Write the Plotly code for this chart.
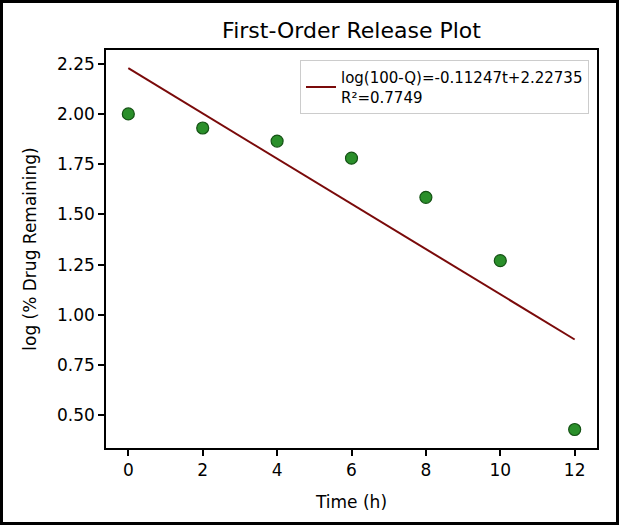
import plotly.graph_objects as go

# time points (h) and log(% drug remaining)
time_h = [0, 2, 4, 6, 8, 10, 12]
log_remaining = [2.00, 1.93, 1.865, 1.78, 1.585, 1.27, 0.43]

# fitted first-order line, evaluated at the first and last time point
fit_t = [0, 12]
fit_y = [2.22735, 0.87771]
fit_label = "log(100-Q)=-0.11247t+2.22735<br>R²=0.7749"

W, H = 619, 525
L, R, T, B = 106, 22, 50, 77
pw, ph = W - L - R, H - T - B
FONT = "DejaVu Sans"

fig = go.Figure()
fig.add_trace(
    go.Scatter(
        x=time_h,
        y=log_remaining,
        mode="markers",
        marker=dict(size=12, color="#2a8f2a", line=dict(color="#145214", width=1.2)),
        showlegend=False,
    )
)
fig.add_trace(
    go.Scatter(
        x=fit_t,
        y=fit_y,
        mode="lines",
        line=dict(color="#7a0a0a", width=2),
        name=fit_label,
    )
)

# outer black frame around the whole picture
fig.add_shape(
    type="rect",
    xref="paper",
    yref="paper",
    x0=(1.5 - L) / pw,
    x1=1 + (R - 1.5) / pw,
    y0=(1.5 - B) / ph,
    y1=1 + (T - 1.5) / ph,
    line=dict(color="black", width=3),
    fillcolor="rgba(0,0,0,0)",
    layer="above",
)

axis_style = dict(
    showline=True,
    linecolor="black",
    linewidth=1.5,
    mirror=True,
    showgrid=False,
    zeroline=False,
    ticks="outside",
    ticklen=6,
    tickwidth=1.5,
    tickcolor="black",
    tickfont=dict(family=FONT, size=17, color="black"),
)

fig.update_xaxes(
    range=[-0.6, 12.6],
    tickvals=[0, 2, 4, 6, 8, 10, 12],
    title=dict(text="Time (h)", font=dict(family=FONT, size=17, color="black"), standoff=17),
    **axis_style,
)
fig.update_yaxes(
    range=[0.338, 2.318],
    tickvals=[0.5, 0.75, 1.0, 1.25, 1.5, 1.75, 2.0, 2.25],
    tickformat=".2f",
    title=dict(text="log (% Drug Remaining)", font=dict(family=FONT, size=17, color="black"), standoff=16),
    **axis_style,
)

fig.update_layout(
    width=W,
    height=H,
    margin=dict(l=L, r=R, t=T, b=B),
    paper_bgcolor="white",
    plot_bgcolor="white",
    font=dict(family=FONT, color="black"),
    title=dict(
        text="First-Order Release Plot",
        font=dict(family=FONT, size=22, color="black"),
        x=0.5,
        xref="paper",
        xanchor="center",
        y=1 - 30 / H,
        yref="container",
        yanchor="middle",
    ),
    legend=dict(
        x=1 - 8 / pw,
        y=1 - 10 / ph,
        xanchor="right",
        yanchor="top",
        bgcolor="rgba(255,255,255,0.8)",
        bordercolor="#cccccc",
        borderwidth=1,
        font=dict(family=FONT, size=15, color="black"),
        itemwidth=30,
    ),
)

# drop the page's default body margin so the figure sits at the window corner
fig.write_html(
    "out.html",
    config={"displayModeBar": False},
    post_script="document.body.style.margin='0';",
)
